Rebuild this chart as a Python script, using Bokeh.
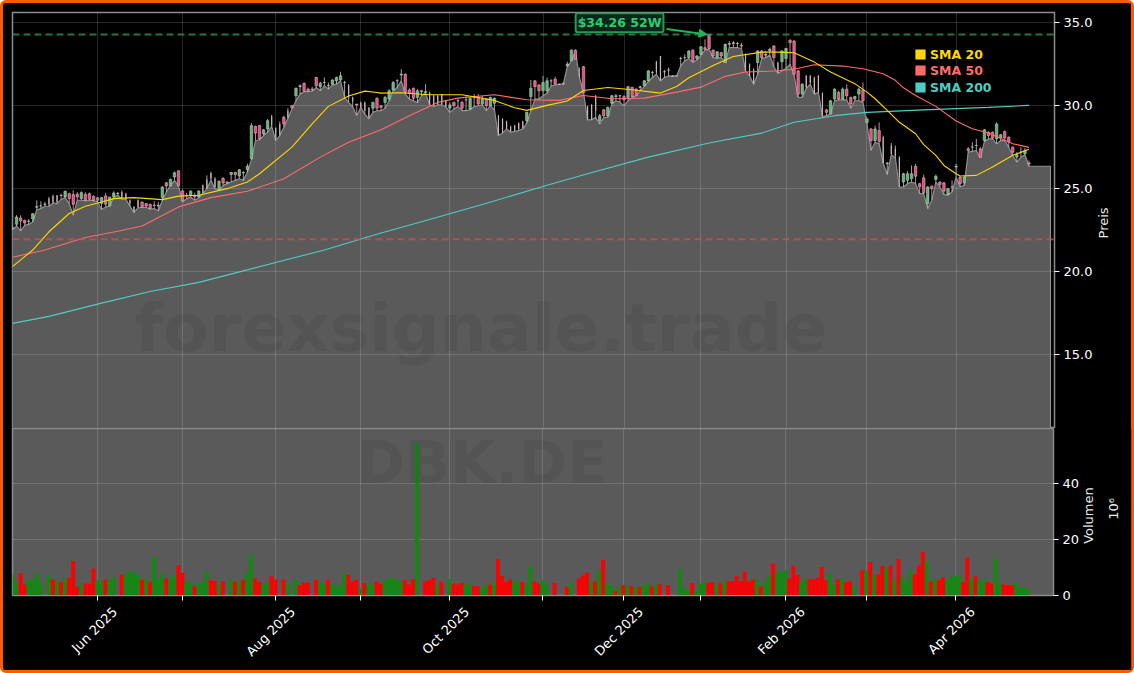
"""DBK.DE candlestick chart with SMAs and volume, dark theme."""
from math import pi

from bokeh.embed import file_html
from bokeh.layouts import column
from bokeh.models import Arrow, FixedTicker, Label, Legend, LegendItem, LinearAxis, NormalHead, Range1d, Span
from bokeh.plotting import figure
from bokeh.resources import INLINE

# Daily prices
opens = [
    22.6, 22.85, 23.23, 23.09, 23.03, 23.17, 23.88, 23.95, 24.05, 24.4,
    24.55, 24.6, 24.6, 24.5, 24.7, 24.64, 24.66, 24.4, 24.66, 24.7,
    24.54, 24.45, 24.1, 24.56, 23.95, 24.5, 24.7, 24.8, 24.7, 24.3,
    23.9, 24.3, 24.2, 24.1, 24.05, 24.0, 23.95, 24.46, 25.35, 25.16,
    25.7, 26.08, 24.86, 24.6, 24.6, 24.6, 24.5, 25.2, 25.55, 25.96,
    25.6, 24.96, 25.62, 25.4, 25.85, 25.98, 25.76, 25.95, 26.15, 26.8,
    28.75, 28.8, 28.3, 28.6, 29.35, 28.65, 28.9, 29.3, 29.7, 30.0,
    30.6, 31.15, 31.35, 31.0, 31.0, 31.7, 31.15, 31.4, 31.2, 31.3,
    31.5, 31.55, 31.4, 31.25, 30.5, 30.1, 30.2, 30.2, 29.9, 29.85,
    30.45, 30.0, 30.2, 30.4, 30.95, 31.5, 31.85, 31.9, 30.95, 31.05,
    30.5, 30.85, 30.8, 30.8, 30.6, 30.6, 30.7, 30.3, 29.85, 30.2,
    30.3, 30.2, 30.35, 29.8, 30.5, 30.5, 30.1, 30.4, 30.0, 30.15,
    29.4, 29.2, 29.05, 28.75, 28.8, 28.95, 29.05, 29.1, 30.55, 31.5,
    31.25, 30.9, 30.9, 31.5, 31.6, 31.3, 31.35, 32.4, 32.7, 33.35,
    31.9, 32.35, 29.95, 30.05, 30.6, 29.1, 29.75, 29.4, 30.15, 30.55,
    30.6, 30.55, 30.5, 31.1, 31.0, 31.1, 31.2, 31.5, 32.0, 32.65,
    33.0, 32.05, 32.15, 31.8, 31.8, 32.85, 32.9, 32.9, 33.35, 32.85,
    33.1, 33.5, 34.3, 33.35, 32.9, 33.2, 32.6, 33.75, 33.75, 33.75,
    33.65, 33.1, 32.5, 32.2, 32.6, 33.3, 33.05, 33.3, 33.6, 32.6,
    32.65, 32.85, 33.95, 33.9, 32.1, 30.7, 31.8, 31.8, 31.7, 31.8,
    30.75, 29.75, 29.5, 30.4, 30.8, 30.4, 31.0, 30.5, 30.4, 30.7,
    30.95, 29.0, 28.6, 27.9, 28.5, 28.1, 26.5, 27.6, 27.4, 26.9,
    25.4, 25.5, 25.6, 26.35, 25.3, 25.65, 24.1, 25.15, 25.55, 25.4,
    25.35, 24.65, 25.1, 26.3, 25.7, 25.35, 27.4, 27.5, 27.6, 27.4,
    27.9, 28.4, 28.4, 28.0, 28.05, 28.45, 28.1, 27.5, 26.9, 27.2,
    27.1, 26.55,
]
closes = [
    22.65, 23.29, 23.05, 22.93, 23.05, 23.49, 23.92, 23.96, 24.07, 24.05,
    24.2, 24.2, 24.58, 24.84, 24.4, 24.06, 24.5, 24.76, 24.3, 24.36,
    24.3, 24.3, 24.46, 24.06, 24.5, 24.74, 24.72, 24.4, 24.4, 24.1,
    23.6, 23.9, 23.9, 23.95, 23.8, 23.98, 24.0, 25.1, 25.16, 25.56,
    25.96, 25.18, 24.26, 24.58, 24.85, 24.5, 24.86, 24.75, 25.0, 25.6,
    25.1, 25.44, 25.34, 25.35, 25.98, 25.84, 26.14, 25.97, 26.35, 28.8,
    28.35, 28.0, 28.55, 29.1, 28.8, 28.0, 28.25, 28.9, 29.3, 29.9,
    31.05, 31.2, 30.9, 30.9, 30.95, 31.2, 31.35, 31.4, 31.22, 31.55,
    31.7, 31.8, 31.4, 30.5, 30.25, 30.05, 29.9, 29.7, 29.3, 30.2,
    29.85, 29.9, 30.5, 30.9, 31.4, 31.5, 31.9, 30.8, 30.75, 30.45,
    30.9, 30.9, 30.85, 30.1, 30.0, 30.1, 30.1, 29.95, 30.05, 30.0,
    30.3, 29.85, 30.35, 30.45, 30.5, 30.1, 30.4, 30.0, 30.5, 30.45,
    28.2, 28.4, 28.6, 28.45, 28.5, 28.6, 28.65, 29.6, 31.05, 31.15,
    30.9, 31.4, 31.5, 31.5, 31.3, 31.28, 31.3, 32.5, 33.35, 32.8,
    31.8, 30.8, 29.2, 29.15, 29.7, 29.4, 29.4, 29.9, 30.6, 30.6,
    30.6, 30.35, 31.15, 30.55, 30.6, 31.15, 31.5, 32.1, 32.0, 32.0,
    31.5, 32.05, 32.15, 31.78, 31.8, 32.85, 32.9, 33.3, 32.7, 33.0,
    33.55, 33.4, 33.45, 33.0, 33.25, 33.0, 33.7, 33.7, 33.8, 33.75,
    33.6, 32.1, 31.8, 31.3, 33.3, 32.9, 33.1, 33.4, 32.9, 32.0,
    33.3, 33.45, 33.8, 31.9, 30.7, 31.3, 31.1, 31.4, 30.7, 30.8,
    29.4, 29.6, 30.3, 31.0, 30.4, 31.0, 30.6, 30.1, 30.55, 31.0,
    30.3, 29.2, 27.9, 28.6, 27.85, 26.55, 26.55, 27.1, 26.95, 25.7,
    25.9, 25.9, 25.9, 25.75, 25.1, 24.75, 25.1, 25.0, 25.75, 25.25,
    24.85, 25.0, 25.1, 26.35, 25.3, 25.7, 27.3, 27.5, 27.6, 26.9,
    28.55, 28.2, 28.05, 28.9, 28.25, 28.05, 27.8, 27.2, 27.05, 27.2,
    27.3, 26.5,
]
highs = [
    22.8, 23.4, 23.39, 23.13, 23.15, 23.53, 24.3, 24.24, 24.2, 24.5,
    24.64, 24.6, 24.7, 24.88, 24.75, 24.9, 24.8, 24.84, 24.78, 24.76,
    24.6, 24.5, 24.5, 24.74, 24.5, 24.84, 24.8, 24.9, 24.75, 24.35,
    23.95, 24.35, 24.2, 24.13, 24.1, 24.24, 24.2, 25.15, 25.4, 25.6,
    26.03, 26.1, 24.95, 24.75, 24.9, 24.75, 24.9, 25.25, 25.8, 26.0,
    25.7, 25.5, 25.7, 25.45, 26.0, 26.02, 26.18, 26.05, 26.5, 28.95,
    28.8, 28.85, 28.6, 29.2, 29.45, 28.7, 29.05, 29.4, 29.85, 30.05,
    31.1, 31.3, 31.4, 31.1, 31.15, 31.75, 31.45, 31.7, 31.4, 31.6,
    31.75, 32.05, 31.5, 31.3, 30.55, 30.1, 30.25, 30.25, 29.9, 30.25,
    30.5, 30.05, 30.6, 31.0, 31.5, 31.6, 32.2, 31.95, 31.05, 31.1,
    31.0, 30.95, 31.3, 30.85, 30.65, 30.65, 30.7, 30.35, 30.2, 30.25,
    30.45, 30.3, 30.6, 30.5, 30.7, 30.7, 30.6, 30.45, 30.55, 30.5,
    29.45, 29.25, 29.1, 28.8, 28.85, 29.0, 29.1, 29.65, 31.55, 31.55,
    31.3, 31.8, 31.7, 31.6, 31.75, 31.35, 31.4, 32.65, 33.4, 33.4,
    32.3, 32.4, 30.0, 30.1, 30.65, 29.5, 29.8, 29.95, 30.65, 30.7,
    30.65, 30.65, 31.2, 31.15, 31.05, 31.2, 31.55, 32.15, 32.1, 32.7,
    33.0, 32.15, 32.3, 31.85, 31.85, 32.95, 33.1, 33.35, 33.4, 33.05,
    33.6, 34.0, 34.3, 33.4, 33.3, 33.25, 33.75, 33.9, 33.9, 33.85,
    33.8, 33.15, 32.55, 32.25, 33.35, 33.35, 33.3, 33.5, 33.65, 32.65,
    33.35, 33.5, 34.0, 33.95, 32.15, 31.35, 31.85, 31.85, 31.75, 31.85,
    30.8, 29.8, 30.35, 31.05, 30.9, 31.1, 31.3, 30.55, 30.6, 31.1,
    31.4, 29.3, 28.65, 28.8, 29.0, 28.2, 26.6, 27.75, 27.6, 26.95,
    25.95, 26.05, 26.4, 26.5, 25.35, 25.85, 25.15, 25.2, 25.85, 25.45,
    25.4, 25.05, 25.5, 26.5, 25.75, 25.8, 27.5, 27.8, 28.0, 27.5,
    28.6, 28.45, 28.45, 29.0, 28.3, 28.5, 28.15, 27.55, 27.2, 27.5,
    27.45, 26.7,
]
lows = [
    22.5, 22.75, 22.45, 22.79, 22.85, 22.99, 23.73, 23.8, 23.94, 23.94,
    24.14, 24.1, 24.35, 24.46, 24.1, 23.4, 24.3, 24.3, 24.26, 24.3,
    24.28, 24.2, 23.74, 23.9, 23.95, 24.5, 24.6, 24.36, 24.35, 23.95,
    23.55, 23.85, 23.87, 23.87, 23.76, 23.8, 23.65, 24.3, 24.8, 25.2,
    25.5, 25.16, 24.2, 24.4, 24.5, 24.3, 24.45, 24.7, 25.0, 25.5,
    25.0, 24.9, 25.2, 25.3, 25.4, 25.5, 25.6, 25.5, 26.0, 26.75,
    27.9, 27.95, 28.2, 28.4, 28.75, 27.9, 28.2, 28.7, 29.25, 29.8,
    30.3, 30.7, 30.85, 30.85, 30.88, 31.1, 30.9, 31.2, 31.0, 31.25,
    31.3, 31.5, 30.5, 30.2, 29.95, 29.4, 29.9, 29.5, 29.2, 29.6,
    29.7, 29.7, 29.85, 30.3, 30.9, 31.1, 31.5, 30.7, 30.4, 30.3,
    30.2, 30.6, 30.75, 30.05, 29.95, 30.05, 30.05, 29.95, 29.6, 29.8,
    29.95, 29.7, 29.7, 29.75, 29.95, 30.0, 30.05, 29.7, 30.0, 29.75,
    28.2, 28.35, 28.6, 28.4, 28.45, 28.5, 28.6, 28.95, 29.7, 30.4,
    30.4, 30.6, 30.75, 31.2, 31.25, 31.28, 31.3, 32.35, 32.7, 33.3,
    31.7, 30.8, 29.15, 29.15, 29.3, 28.9, 29.3, 29.3, 30.1, 30.3,
    30.2, 30.0, 30.3, 30.5, 30.6, 30.9, 31.15, 31.45, 31.7, 31.9,
    31.5, 31.7, 31.8, 31.77, 31.8, 32.4, 32.7, 32.85, 32.6, 32.75,
    33.05, 33.35, 33.4, 32.9, 32.85, 32.9, 32.6, 33.5, 33.5, 33.5,
    33.45, 32.1, 31.8, 31.3, 31.9, 32.85, 32.9, 33.05, 32.35, 31.95,
    32.1, 32.25, 32.5, 31.85, 30.5, 30.5, 31.05, 31.3, 30.7, 30.8,
    29.35, 29.4, 29.5, 30.3, 30.35, 30.35, 30.35, 29.85, 30.3, 30.3,
    30.2, 28.9, 27.3, 27.8, 27.7, 26.55, 25.85, 27.05, 26.85, 25.1,
    25.1, 25.3, 25.4, 25.3, 24.7, 24.7, 23.8, 24.3, 25.4, 25.1,
    24.65, 24.6, 24.8, 25.7, 25.1, 25.2, 27.2, 27.25, 27.3, 26.85,
    27.85, 28.0, 28.0, 27.7, 27.9, 27.9, 27.5, 27.0, 26.6, 26.9,
    27.05, 26.35,
]
# Bars drawn as thin pale candles in the picture
pale_bars = [
    9, 10, 11, 27, 28, 29, 30, 31, 47, 48, 49, 50, 64, 65, 66, 68, 83, 84, 86, 87, 88,
    103, 104, 105, 106, 107, 120, 121, 122, 123, 124, 125, 126, 140, 142, 143, 144,
    159, 160, 181, 182, 183, 189, 196, 197, 198, 199, 200, 215, 217, 218, 219,
]

# Volume in millions, vol_up 1 = green, 0 = red
volume = [
    7.5, 4.5, 7.9, 3.9, 5.4, 5.5, 7.9, 4.8, 0.0, 7.3,
    5.7, 5.1, 4.8, 6.1, 6.3, 12.3, 3.1, 4.3, 4.3, 4.3,
    9.6, 5.4, 4.9, 5.7, 5.5, 6.5, 0.0, 7.5, 7.7, 8.6,
    8.2, 7.3, 5.6, 6.1, 4.9, 13.7, 5.6, 7.9, 6.1, 6.1,
    7.5, 10.8, 8.1, 5.0, 4.4, 3.3, 4.2, 4.5, 8.3, 5.5,
    5.2, 3.9, 5.1, 0.0, 5.8, 4.9, 5.1, 5.5, 8.1, 14.6,
    6.1, 4.9, 4.4, 4.4, 6.9, 5.7, 0.0, 5.7, 4.3, 0.0,
    5.7, 3.7, 4.5, 4.6, 0.0, 5.5, 4.5, 3.9, 5.6, 4.3,
    3.3, 3.6, 7.9, 7.3, 4.9, 5.7, 2.4, 4.4, 4.2, 3.9,
    5.0, 4.2, 5.1, 6.0, 6.2, 5.7, 4.8, 5.6, 3.9, 5.8,
    54.2, 0.0, 5.1, 5.5, 6.3, 3.7, 4.9, 0.0, 5.8, 4.2,
    3.9, 4.4, 3.9, 4.4, 3.3, 3.3, 2.7, 3.9, 3.9, 4.3,
    13.0, 6.9, 4.8, 5.7, 5.1, 5.1, 4.8, 3.9, 10.5, 5.0,
    4.3, 5.5, 3.8, 0.0, 4.4, 0.0, 0.0, 3.1, 4.6, 0.0,
    6.1, 7.1, 8.3, 4.5, 5.1, 8.7, 12.7, 4.2, 3.3, 1.5,
    3.0, 3.7, 3.6, 3.3, 3.1, 3.0, 3.6, 4.3, 3.1, 3.9,
    4.0, 0.0, 3.7, 0.0, 0.0, 9.2, 2.4, 2.1, 4.4, 1.8,
    4.3, 4.6, 4.5, 4.6, 3.8, 4.4, 5.0, 5.1, 5.1, 6.9,
    5.2, 8.5, 5.1, 5.7, 5.7, 3.3, 4.5, 7.3, 11.4, 8.3,
    8.3, 9.0, 6.0, 10.6, 7.3, 4.9, 5.7, 5.8, 5.8, 6.3,
    10.1, 5.4, 7.9, 3.9, 5.7, 6.1, 4.9, 5.0, 3.3, 0.0,
    9.0, 8.7, 11.9, 7.3, 7.6, 10.6, 9.9, 10.6, 5.6, 13.0,
    6.5, 5.1, 8.7, 7.6, 10.6, 15.5, 12.3, 5.1, 6.1, 5.4,
    6.5, 5.4, 6.5, 7.1, 6.9, 4.8, 13.5, 6.1, 6.9, 5.1,
    6.1, 4.8, 4.3, 12.9, 4.5, 4.0, 3.7, 3.7, 4.3, 2.7,
    3.2, 2.1,
]
vol_up = [
    1, 1, 0, 0, 1, 1, 1, 1, 1, 1,
    0, 1, 0, 1, 0, 0, 0, 1, 0, 0,
    0, 1, 1, 0, 1, 1, 1, 0, 1, 1,
    1, 1, 0, 1, 0, 1, 1, 1, 0, 1,
    1, 0, 0, 1, 1, 0, 1, 1, 1, 0,
    0, 1, 0, 1, 1, 0, 1, 0, 1, 1,
    0, 0, 1, 1, 0, 0, 1, 0, 1, 1,
    1, 0, 0, 0, 1, 0, 1, 1, 0, 1,
    1, 1, 1, 0, 0, 0, 1, 0, 1, 1,
    0, 0, 1, 1, 1, 1, 1, 0, 0, 0,
    1, 1, 0, 0, 0, 1, 0, 1, 1, 0,
    0, 0, 1, 1, 0, 0, 1, 1, 0, 1,
    0, 0, 0, 0, 1, 1, 0, 1, 1, 0,
    0, 1, 1, 1, 0, 1, 1, 0, 1, 1,
    0, 0, 0, 1, 0, 1, 0, 1, 1, 0,
    1, 0, 1, 0, 1, 0, 1, 1, 0, 1,
    0, 1, 0, 1, 1, 1, 1, 1, 0, 1,
    1, 1, 0, 0, 1, 0, 1, 0, 0, 0,
    0, 0, 0, 0, 1, 0, 1, 1, 0, 1,
    1, 1, 0, 0, 0, 1, 1, 0, 0, 0,
    0, 0, 1, 1, 0, 1, 0, 0, 1, 1,
    0, 1, 0, 1, 0, 0, 1, 0, 1, 0,
    1, 1, 1, 0, 0, 0, 1, 0, 1, 0,
    0, 1, 1, 1, 1, 0, 0, 1, 0, 1,
    1, 0, 0, 1, 1, 0, 0, 0, 1, 1,
    1, 1,
]

# Moving averages, read at a bar every few days
sma20_x = [0, 5, 9, 14, 18, 22, 25, 30, 37, 41, 46, 53, 58, 61, 69, 74, 78, 83, 87, 90, 91, 96,
           103, 111, 119, 124, 127, 132, 137, 141, 147, 153, 160, 164, 167, 173, 178, 185, 189,
           193, 198, 202, 208, 211, 213, 216, 219, 223, 225, 228, 230, 233, 234, 238, 242, 247, 251]
sma20 = [20.3, 21.3, 22.4, 23.5, 23.94, 24.2, 24.4, 24.46, 24.34, 24.55, 24.6, 25.0, 25.4, 25.9,
         27.5, 28.9, 29.96, 30.58, 30.88, 30.8, 30.76, 30.78, 30.66, 30.66, 30.32, 29.88, 29.72,
         30.02, 30.28, 30.92, 31.1, 30.96, 30.76, 31.16, 31.69, 32.43, 32.97, 33.23, 33.23, 33.19,
         32.63, 32.03, 31.33, 30.82, 30.42, 29.72, 29.0, 28.31, 27.65, 27.01, 26.4, 25.9, 25.76,
         25.8, 26.3, 27.01, 27.37]
sma50_x = [0, 8, 18, 26, 32, 41, 49, 58, 67, 76, 83, 91, 98, 105, 110, 119, 127, 135, 141, 148, 156,
           164, 170, 176, 181, 188, 193, 198, 205, 210, 215, 218, 220, 223, 228, 233, 237, 241, 247, 251]
sma50 = [20.86, 21.3, 22.05, 22.43, 22.75, 23.9, 24.46, 24.84, 25.6, 26.9, 27.8, 28.55, 29.4, 30.2,
         30.46, 30.66, 30.36, 30.32, 30.62, 30.42, 30.46, 30.82, 31.12, 31.77, 32.03, 32.09, 32.2,
         32.47, 32.39, 32.23, 31.93, 31.53, 31.08, 30.62, 29.96, 29.08, 28.61, 28.35, 27.71, 27.49]
sma200_x = [0, 9, 22, 34, 46, 65, 77, 91, 101, 116, 132, 142, 157, 172, 185, 193, 203, 211, 225, 241, 251]
sma200 = [16.88, 17.3, 18.1, 18.8, 19.35, 20.55, 21.3, 22.33, 23.0, 24.05, 25.2, 25.9, 26.9, 27.75,
          28.35, 29.0, 29.4, 29.6, 29.75, 29.9, 30.02]

# Month ticks are bar numbers, only every other month is labelled
month_bars = [21, 42, 65, 86, 108, 131, 151, 170, 191, 211, 233]
month_labels = ["Jun 2025", "", "Aug 2025", "", "Oct 2025", "", "Dec 2025", "", "Feb 2026", "", "Apr 2026"]
high_52w = 34.3
low_level = 21.95
flat_end = 256.3

FONT = "DejaVu Sans"
GREY = "#5a5a5a"
bars = list(range(len(closes)))
x_range = Range1d(0, 257.3)


def style_axes(p):
    p.background_fill_color = "black"
    p.border_fill_color = "black"
    p.outline_line_color = "#8c8c8c"
    p.outline_line_width = 1.5
    p.grid.grid_line_color = "white"
    p.grid.grid_line_alpha = 0.15
    p.grid.grid_line_width = 1
    p.xaxis.ticker = FixedTicker(ticks=month_bars)
    ax = p.yaxis[0]
    ax.axis_line_color = "#8c8c8c"
    ax.major_tick_line_color = "white"
    ax.major_tick_in = 0
    ax.major_tick_out = 5
    ax.minor_tick_line_color = None
    ax.major_label_text_color = "white"
    ax.major_label_text_font = FONT
    ax.major_label_text_font_size = "13px"
    ax.major_label_standoff = 4


def side_text(p, text, at, standoff):
    """Rotated text beside the y axis; a rotated axis title is not centred, a lone tick label can be placed."""
    axis = LinearAxis(ticker=FixedTicker(ticks=[at]), major_label_overrides={at: text},
                      major_label_orientation=pi / 2, axis_line_color=None, major_tick_line_color=None,
                      minor_tick_line_color=None, major_tick_in=0, major_tick_out=0, major_label_standoff=standoff,
                      major_label_text_color="#e8e8e8", major_label_text_font=FONT,
                      major_label_text_font_size="13px")
    p.add_layout(axis, "right")


# Price panel
price = figure(width=1128, height=425, frame_width=1042, frame_height=416, x_range=x_range,
               y_range=Range1d(10.54, 35.62), y_axis_location="right", output_backend="svg",
               toolbar_location=None, min_border_left=9, min_border_right=77, min_border_top=9,
               min_border_bottom=0)
style_axes(price)
price.xaxis.visible = False
price.yaxis.ticker = FixedTicker(ticks=[15, 20, 25, 30, 35])
price.yaxis.major_label_overrides = {15: "15.0", 20: "20.0", 25: "25.0", 30: "30.0", 35: "35.0"}
side_text(price, "Preis", 22.0, 8)

# The grey area follows the lows and runs on flat past the last bar
area_x = bars + [flat_end]
area_y = lows + [lows[-1]]
price.varea(area_x, y1=area_y, y2=10.54, fill_color=GREY, level="image")
price.line(area_x + [flat_end], area_y + [10.54], line_color="#8f8f8f", line_width=1.2)

price.add_layout(Span(location=high_52w, dimension="width", line_color="#2e9e5b", line_alpha=0.75,
                      line_dash="7 4", line_width=2))
price.add_layout(Span(location=low_level, dimension="width", line_color="#e04848", line_alpha=0.75,
                      line_dash="7 4", line_width=2))

# Candles
colors = []
for b in bars:
    if b in pale_bars:
        colors.append("#cbb3ba")
    elif closes[b] >= opens[b]:
        colors.append("#5cb86c")
    else:
        colors.append("#f0457c")
wicks = ["#e0a0b4" if c == "#f0457c" else "#c0c0c0" for c in colors]
widths = [0.3 if b in pale_bars else 0.62 for b in bars]
edges = [None if b in pale_bars else "#d0d0d0" for b in bars]
price.segment(bars, highs, bars, lows, line_color=wicks, line_width=1, line_alpha=0.85)
price.vbar(bars, width=widths, top=[max(o, c) for o, c in zip(opens, closes)],
           bottom=[min(o, c) for o, c in zip(opens, closes)], fill_color=colors,
           line_color=edges, line_width=0.5)

price.line(sma200_x, sma200, line_color="#4ECDC4", line_width=1.1)
price.line(sma50_x, sma50, line_color="#FF6B6B", line_width=1.1)
price.line(sma20_x, sma20, line_color="#FFD700", line_width=1.1)

for name, color, top in (("SMA 20", "#FFD700", 365), ("SMA 50", "#FF6B6B", 349), ("SMA 200", "#4ECDC4", 332)):
    # the point sits left of the range, it only feeds the legend's swatch
    swatch = price.scatter([-50], [20], marker="square", size=10, fill_color=color, line_color=color,
                           line_width=3, line_join="miter")
    price.add_layout(Legend(items=[LegendItem(label=name, renderers=[swatch])], location=(899, top),
                            background_fill_alpha=0, border_line_alpha=0, glyph_width=18, glyph_height=18,
                            margin=0, padding=0, label_standoff=1, label_height=14,
                            label_text_color=color, label_text_font=FONT, label_text_font_style="bold",
                            label_text_font_size="12.5px"))

price.add_layout(Label(x=115.6, y=16.6, text="forexsignale.trade", text_font=FONT, text_font_size="66.5px",
                       text_font_style="bold", text_color="black", text_alpha=0.06, text_align="center",
                       text_baseline="middle"))
price.add_layout(Arrow(x_start=161.5, y_start=34.63, x_end=171.5, y_end=34.3, line_color="#22b455", line_width=2,
                       end=NormalHead(size=8, fill_color="#22b455", line_color="#22b455")))
price.add_layout(Label(x=149.9, y=35.0, text="$34.26 52W", text_font=FONT, text_font_size="12.5px",
                       text_font_style="bold", text_color="#2ecc71", text_align="center", text_baseline="middle",
                       background_fill_color="#08261a", border_line_color="#1f9d55", border_line_width=2,
                       padding=2, border_radius=2))

# Volume panel
vol = figure(width=1128, height=242, frame_width=1042, frame_height=167, x_range=x_range,
             y_range=Range1d(0, 59.5), y_axis_location="right", output_backend="svg",
             toolbar_location=None, min_border_left=9, min_border_right=77, min_border_top=0,
             min_border_bottom=75)
style_axes(vol)
vol.background_fill_color = GREY
vol.yaxis.ticker = FixedTicker(ticks=[0, 20, 40])
side_text(vol, "Volumen", 18.4, 6)
side_text(vol, "10⁶", 27.0, 7)
# Tick marks on the main axis, rotated labels on a second one so they sit centred under the tick
vol.xaxis.major_label_overrides = {b: "" for b in month_bars}
vol.xaxis.major_label_text_font_size = "1px"
vol.xaxis.major_label_standoff = 0
vol.xaxis.axis_line_color = "#8c8c8c"
vol.xaxis.major_tick_line_color = "white"
vol.xaxis.major_tick_in = 0
vol.xaxis.major_tick_out = 5
vol.xaxis.minor_tick_line_color = None
label_bars = [b + 4.3 for b in month_bars]
labels_axis = LinearAxis(ticker=FixedTicker(ticks=label_bars), major_label_overrides=dict(zip(label_bars, month_labels)),
                         major_label_orientation=pi / 4, axis_line_color=None, major_tick_line_color=None,
                         minor_tick_line_color=None, major_tick_in=0, major_tick_out=0, major_label_standoff=9,
                         major_label_text_color="white", major_label_text_font=FONT,
                         major_label_text_font_size="13px")
vol.add_layout(labels_axis, "below")

vol.vbar(bars, width=1.0, top=volume, bottom=0, line_color=None, fill_alpha=0.95,
         fill_color=["#128a12" if u else "#ff0000" for u in vol_up])
vol.add_layout(Label(x=116, y=47.3, text="DBK.DE", text_font=FONT, text_font_size="59px", text_font_style="bold",
                     text_color="black", text_alpha=0.06, text_align="center", text_baseline="middle"))

page = column(price, vol, spacing=0, styles={
    "position": "absolute", "left": "0", "top": "0", "width": "1134px", "height": "673px",
    "box-sizing": "border-box", "border": "3px solid #ff5a00", "border-radius": "6px", "background": "black",
})

open("out.html", "w").write(file_html(page, INLINE))
